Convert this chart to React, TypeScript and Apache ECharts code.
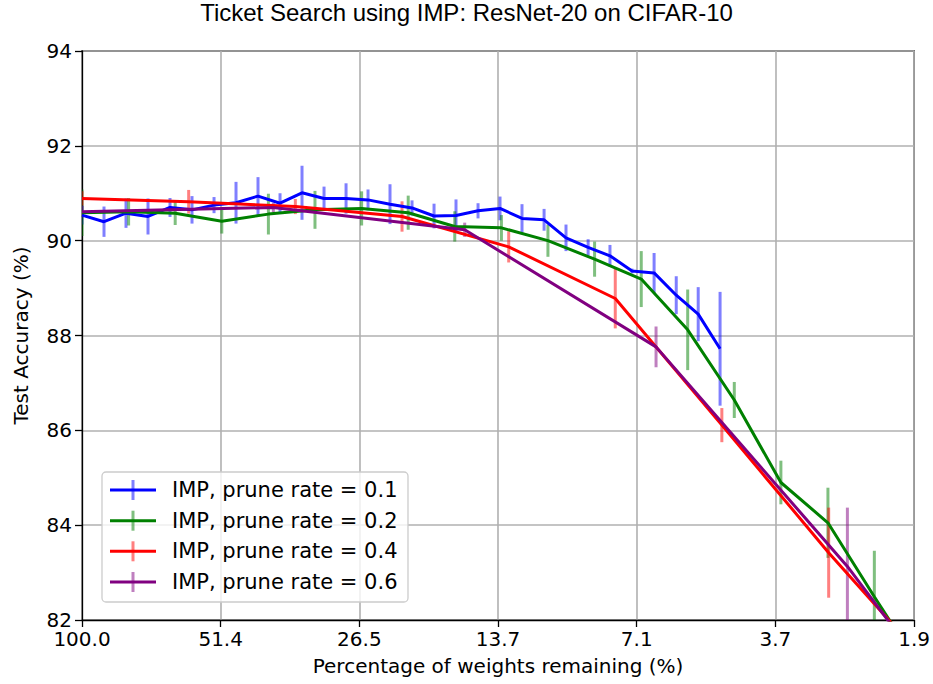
import React, { useEffect, useRef } from 'react';
import * as echarts from 'echarts';

// ---- Data ----
const xTickLabels = ['100.0', '51.4', '26.5', '13.7', '7.1', '3.7', '1.9'];
const axisStartPct = 100;
const axisEndPct = 1.86;

const seriesNames = [
  'IMP, prune rate = 0.1',
  'IMP, prune rate = 0.2',
  'IMP, prune rate = 0.4',
  'IMP, prune rate = 0.6',
];
const seriesColors = ['#0000ff', '#008000', '#ff0000', '#800080'];
const errColors = ['rgba(0,0,255,0.5)', 'rgba(0,128,0,0.5)', 'rgba(255,0,0,0.5)', 'rgba(128,0,128,0.5)'];

// prune rate 0.1
const rate01Pct = [100, 90, 81, 72.9, 65.61, 59.05, 53.14, 47.83, 43.05, 38.74, 34.87, 31.38, 28.24, 25.42, 22.88,
  20.59, 18.53, 16.68, 15.01, 13.51, 12.16, 10.94, 9.85, 8.86, 7.98, 7.18, 6.46, 5.81, 5.23, 4.71];
const rate01Acc = [90.54, 90.40, 90.58, 90.51, 90.70, 90.65, 90.75, 90.80, 90.94, 90.79, 91.01, 90.89, 90.89, 90.86, 90.77,
  90.69, 90.52, 90.53, 90.63, 90.68, 90.47, 90.44, 90.06, 89.86, 89.68, 89.36, 89.32, 88.85, 88.45, 87.72];
const rate01Err = [0.2, 0.32, 0.31, 0.38, 0.2, 0.29, 0.17, 0.44, 0.40, 0.21, 0.57, 0.25, 0.32, 0.22, 0.42,
  0.16, 0.26, 0.34, 0.16, 0.25, 0.30, 0.23, 0.28, 0.17, 0.23, 0.05, 0.42, 0.40, 0.57, 1.2];

// prune rate 0.2
const rate02Pct = [100, 80, 64, 51.2, 40.96, 32.77, 26.21, 20.97, 16.78, 13.42, 10.74, 8.59, 6.87, 5.5, 4.4, 3.52, 2.81, 2.25, 1.8];
const rate02Acc = [90.59, 90.61, 90.58, 90.41, 90.56, 90.65, 90.68, 90.59, 90.30, 90.27, 90.0, 89.61, 89.19, 88.12, 86.64,
  84.9, 84.05, 82.49, 80.97];
const rate02Err = [0.49, 0.29, 0.25, 0.26, 0.43, 0.40, 0.36, 0.36, 0.32, 0.27, 0.34, 0.37, 0.59, 0.85, 0.38, 0.46, 0.74, 0.97, 0];

// prune rate 0.4
const rate04Pct = [100, 60, 36, 21.6, 12.96, 7.78, 4.67, 2.8, 1.68];
const rate04Acc = [90.89, 90.82, 90.72, 90.51, 89.87, 88.78, 86.11, 83.42, 80.9];
const rate04Err = [0.15, 0.25, 0.16, 0.32, 0.33, 0.63, 0.36, 0.95, 0];

// prune rate 0.6
const rate06Pct = [100, 40, 16, 6.4, 2.56, 1.02];
const rate06Acc = [90.61, 90.70, 90.23, 87.76, 83.13, 77.74];
const rate06Err = [0.12, 0.1, 0.15, 0.43, 1.24, 0];

const yMin = 82;
const yMax = 94;
const yInterval = 2;

const allPct = [rate01Pct, rate02Pct, rate04Pct, rate06Pct];
const allAcc = [rate01Acc, rate02Acc, rate04Acc, rate06Acc];
const allErr = [rate01Err, rate02Err, rate04Err, rate06Err];

// log-scale position, one unit per tick
const nTicks = xTickLabels.length - 1;
const toPos = (p: number) => (nTicks * Math.log(axisStartPct / p)) / Math.log(axisStartPct / axisEndPct);

const FONT = 'DejaVu Sans';

export default function App() {
  const ref = useRef<HTMLDivElement>(null);

  useEffect(() => {
    if (!ref.current) return;
    const chart = echarts.init(ref.current, undefined, { renderer: 'svg' });

    const series: any[] = [];
    allPct.forEach((pcts, i) => {
      const acc = allAcc[i];
      const err = allErr[i];
      const errData = pcts
        .map((p, j) => [toPos(p), acc[j] - err[j], acc[j] + err[j], err[j]])
        .filter((d) => d[3] > 0);
      series.push({
        type: 'custom',
        name: seriesNames[i] + ' err',
        clip: true,
        silent: true,
        encode: { x: 0, y: [1, 2] },
        data: errData,
        renderItem: (params: any, api: any) => {
          const x = api.value(0);
          const p1 = api.coord([x, api.value(1)]);
          const p2 = api.coord([x, api.value(2)]);
          return {
            type: 'line',
            shape: { x1: p1[0], y1: p1[1], x2: p2[0], y2: p2[1] },
            style: { stroke: errColors[i], lineWidth: 3 },
          };
        },
      });
      series.push({
        type: 'line',
        name: seriesNames[i],
        showSymbol: false,
        symbol: 'none',
        clip: true,
        silent: true,
        lineStyle: { color: seriesColors[i], width: 3 },
        itemStyle: { color: seriesColors[i] },
        data: pcts.map((p, j) => [toPos(p), acc[j]]),
      });
    });

    // legend drawn as graphic
    const lx = 102, ly = 472, lw = 306, lh = 130;
    const rowY = [490, 520.7, 551.3, 582];
    const Z = 100;
    const legendChildren: any[] = [
      {
        type: 'rect',
        z: Z,
        shape: { x: lx, y: ly, width: lw, height: lh, r: 4 },
        style: { fill: 'rgba(255,255,255,0.8)', stroke: '#cccccc', lineWidth: 1.3 },
      },
    ];
    seriesNames.forEach((name, i) => {
      const y = rowY[i];
      legendChildren.push({
        type: 'line',
        z: Z + 1,
        shape: { x1: 110, y1: y, x2: 156, y2: y },
        style: { stroke: seriesColors[i], lineWidth: 3 },
      });
      legendChildren.push({
        type: 'line',
        z: Z + 2,
        shape: { x1: 133, y1: y - 10, x2: 133, y2: y + 10 },
        style: { stroke: errColors[i], lineWidth: 3 },
      });
      legendChildren.push({
        type: 'text',
        z: Z + 1,
        x: 172,
        y: y,
        style: { text: name, fill: '#000', font: `21px "${FONT}"`, verticalAlign: 'middle', align: 'left' },
      });
    });

    chart.setOption({
      animation: false,
      backgroundColor: '#ffffff',
      title: {
        text: 'Ticket Search using IMP: ResNet-20 on CIFAR-10',
        left: 'center',
        top: -5,
        textStyle: { fontFamily: 'Liberation Sans', fontSize: 24, fontWeight: 'normal', color: '#000' },
      },
      grid: {
        left: 82,
        top: 51,
        right: 15,
        bottom: 64,
        show: true,
        borderColor: '#000',
        borderWidth: 1.3,
        backgroundColor: 'transparent',
      },
      xAxis: {
        type: 'value',
        min: 0,
        max: nTicks,
        interval: 1,
        name: 'Percentage of weights remaining (%)',
        nameLocation: 'middle',
        nameGap: 36,
        nameTextStyle: { fontFamily: FONT, fontSize: 20, color: '#000' },
        axisLine: { show: true, lineStyle: { color: '#000', width: 1.3 } },
        axisTick: { show: true, inside: false, length: 7, lineStyle: { color: '#000', width: 1.3 } },
        axisLabel: {
          margin: 9,
          fontFamily: FONT,
          fontSize: 20,
          lineHeight: 20,
          color: '#000',
          formatter: (v: number) => xTickLabels[Math.round(v)] ?? '',
        },
        splitLine: { show: true, lineStyle: { color: '#b0b0b0', width: 1.6 } },
      },
      yAxis: {
        type: 'value',
        min: yMin,
        max: yMax,
        interval: yInterval,
        name: 'Test Accuracy (%)',
        nameLocation: 'middle',
        nameGap: 51,
        nameTextStyle: { fontFamily: FONT, fontSize: 20, color: '#000' },
        axisLine: { show: true, lineStyle: { color: '#000', width: 1.3 } },
        axisTick: { show: true, inside: false, length: 7, lineStyle: { color: '#000', width: 1.3 } },
        axisLabel: { margin: 10, fontFamily: FONT, fontSize: 20, lineHeight: 16, color: '#000' },
        splitLine: { show: true, lineStyle: { color: '#b0b0b0', width: 1.6 } },
      },
      series,
      graphic: [{ type: 'group', z: Z, children: legendChildren }],
    });

    return () => chart.dispose();
  }, []);

  return (
    <div
      ref={ref}
      style={{ width: 933, height: 684, position: 'absolute', left: 0, top: 0, background: '#fff' }}
    />
  );
}
